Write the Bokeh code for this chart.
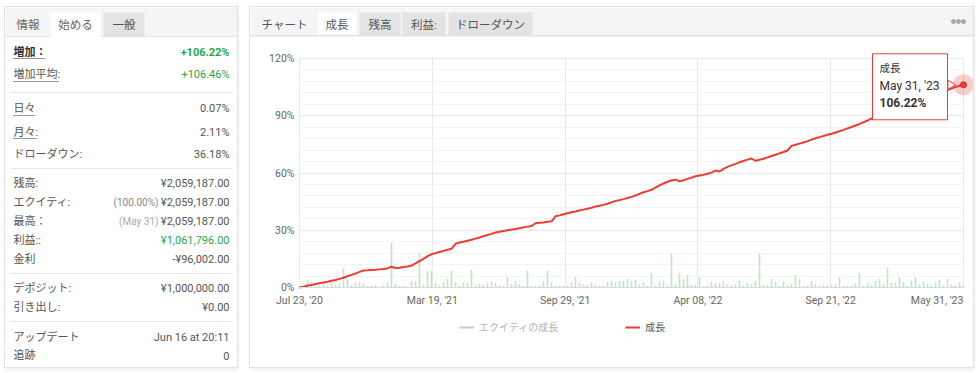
import math
from bokeh.plotting import figure
from bokeh.models import (Range1d, FixedTicker, PrintfTickFormatter, Legend, LegendItem,
                          Label, ColumnDataSource, Grid)
from bokeh.layouts import row, column
from bokeh.core.properties import value
from bokeh.embed import file_html
from bokeh.resources import INLINE

FONT = "Roboto, 'Noto Sans CJK JP', sans-serif"
RED = "#ee3b33"
GREEN = "#1fa84a"
TXT = "#555555"

# ---------------- data ----------------
left_tabs = ["情報", "始める", "一般"]
right_tabs = ["チャート", "成長", "残高", "利益:", "ドローダウン"]

stat_labels = ["増加：", "増加平均:", "日々", "月々:", "ドローダウン:", "残高:", "エクイティ:",
               "最高：", "利益::", "金利", "デポジット:", "引き出し:", "アップデート", "追跡"]
stat_values = ["+106.22%", "+106.46%", "0.07%", "2.11%", "36.18%", "¥2,059,187.00",
               "¥2,059,187.00", "¥2,059,187.00", "¥1,061,796.00", "-¥96,002.00",
               "¥1,000,000.00", "¥0.00", "Jun 16 at 20:11", "0"]
equity_note = "(100.00%)"
high_note = "(May 31)"

x_labels = ["Jul 23, '20", "Mar 19, '21", "Sep 29, '21", "Apr 08, '22", "Sep 21, '22", "May 31, '23"]
y_ticks = [0, 30, 60, 90, 120]
tooltip_series = "成長"
tooltip_date = "May 31, '23"

growth = [
    0.0, 0.4, 0.9, 1.3, 1.8, 2.2, 2.6, 3.0, 3.5, 3.9,
    4.5, 5.1, 5.9, 6.6, 7.3, 8.2, 8.9, 9.0, 9.2, 9.3,
    9.5, 9.7, 10.0, 10.9, 10.2, 10.4, 10.7, 11.0, 11.5, 12.6,
    13.8, 15.0, 16.4, 17.4, 18.0, 18.6, 19.2, 19.8, 20.3, 22.9,
    23.6, 24.0, 24.5, 25.0, 25.6, 26.2, 26.9, 27.5, 28.1, 28.8,
    29.2, 29.6, 30.0, 30.4, 30.7, 31.1, 31.5, 31.9, 32.2, 33.7,
    33.9, 34.1, 34.4, 34.7, 37.3, 37.8, 38.4, 38.9, 39.4, 39.8,
    40.3, 40.8, 41.3, 41.8, 42.4, 42.8, 43.3, 43.9, 44.6, 45.3,
    45.8, 46.3, 46.9, 47.5, 48.2, 49.1, 49.9, 50.5, 51.2, 52.3,
    53.5, 54.5, 55.4, 56.1, 56.5, 55.7, 56.2, 56.9, 57.6, 58.3,
    58.7, 59.0, 59.6, 60.2, 61.3, 60.8, 62.2, 63.2, 64.0, 64.8,
    65.6, 66.3, 67.0, 67.6, 66.4, 66.9, 67.5, 68.2, 68.9, 69.6,
    70.3, 71.0, 71.8, 74.2, 74.8, 75.4, 76.0, 76.7, 77.5, 78.2,
    78.8, 79.4, 80.0, 80.6, 81.2, 81.9, 82.6, 83.4, 84.1, 84.9,
    85.7, 86.6, 87.5, 88.6, 89.3, 90.0, 90.9, 91.6, 92.6, 93.3,
    94.0, 95.0, 95.7, 96.4, 97.4, 98.1, 98.8, 99.8, 100.5, 101.2,
    102.2, 102.8, 103.5, 104.2, 105.1, 105.7, 106.22,
]

activity = [
    0.5, 1.0, 4.0, 3.0, 1.2, 0.8, 1.5, 1.0, 3.0, 1.2,
    2.0, 10.0, 4.5, 1.0, 2.6, 2.8, 2.2, 0.8, 1.0, 1.6,
    0.6, 1.2, 2.6, 23.5, 1.8, 0.8, 1.0, 0.6, 3.5, 3.2,
    18.0, 1.5, 8.7, 8.7, 2.6, 1.2, 3.0, 4.5, 8.7, 2.6,
    1.0, 2.6, 2.6, 9.3, 1.2, 1.7, 1.4, 2.3, 3.0, 2.3,
    1.2, 0.9, 5.2, 1.7, 3.5, 1.7, 0.9, 8.7, 0.9, 0.9,
    1.2, 3.5, 8.7, 2.6, 0.9, 1.2, 0.9, 1.2, 3.0, 5.6,
    2.6, 1.7, 1.2, 2.6, 1.2, 0.9, 1.2, 3.0, 3.5, 2.6,
    3.5, 3.5, 4.4, 3.5, 4.0, 1.7, 3.0, 1.2, 7.3, 1.2,
    3.0, 3.5, 1.2, 17.5, 1.7, 7.3, 4.4, 6.5, 1.4, 1.2,
    5.2, 0.9, 0.9, 3.0, 2.1, 2.3, 3.5, 1.7, 1.2, 1.7,
    3.5, 1.2, 2.6, 1.7, 3.5, 17.5, 1.2, 1.4, 4.4, 3.0,
    1.2, 3.0, 1.2, 1.7, 6.6, 4.4, 0.9, 1.2, 3.5, 1.7,
    0.9, 1.2, 0.9, 1.4, 1.7, 5.2, 1.2, 0.9, 0.9, 2.1,
    7.3, 0.9, 2.1, 1.2, 3.5, 4.4, 1.7, 10.5, 2.3, 2.6,
    5.2, 3.0, 0.9, 3.5, 5.2, 1.7, 3.0, 1.7, 1.2, 2.6,
    4.0, 1.2, 4.4, 1.7, 1.2, 2.6, 1.2,
]

# ---------------- helpers ----------------
SHADOW = {"box-shadow": "0 0 0 1px #e2e2e2, 1px 2px 4px rgba(0,0,0,0.10)"}


def panel_fig(w, h):
    f = figure(width=w, height=h, x_range=Range1d(0, w), y_range=Range1d(h, 0),
               x_axis_type=None, y_axis_type=None, toolbar_location=None,
               output_backend="svg", min_border=0, outline_line_color=None,
               background_fill_color="white", border_fill_color="white")
    f.grid.visible = False
    f.styles = SHADOW
    return f


def txt(f, x, y, t, color=TXT, size="11px", align="left", style="normal"):
    f.text(x=[x], y=[y], text=[t], text_color=color, text_font=value(FONT),
           text_font_size=size, text_align=align, text_baseline="middle",
           text_font_style=style)


# ---------------- left panel ----------------
lp = panel_fig(232, 360)
lp.quad(left=[0], right=[232], top=[0], bottom=[29], fill_color="#f5f5f5", line_color=None)
lp.segment(x0=[0], x1=[232], y0=[29], y1=[29], line_color="#e2e2e2")
lp.quad(left=[45, 98], right=[95, 139], top=[5, 5], bottom=[29.6, 29],
        fill_color=["white", "#e3e3e3"], line_color=None)
txt(lp, 11, 17, left_tabs[0], color="#666", size="11.5px")
txt(lp, 70, 17, left_tabs[1], color="#666", size="11.5px", align="center")
txt(lp, 118.5, 17, left_tabs[2], color="#555", size="11.5px", align="center")

row_y = [45, 67, 101, 125, 147, 176, 195, 214, 233, 252, 281, 300, 330, 348]
for i, (lab, val, yy) in enumerate(zip(stat_labels, stat_values, row_y)):
    lcol = "#333" if i == 0 else TXT
    lsty = "bold" if i == 0 else "normal"
    txt(lp, 8, yy, lab, color=lcol, style=lsty)
    vcol = GREEN if i in (0, 1, 8) else TXT
    vsty = "bold" if i == 0 else "normal"
    txt(lp, 224, yy, val, color=vcol, style=vsty, align="right")

txt(lp, 153, row_y[6], equity_note, color="#888", size="10px", align="right")
txt(lp, 153, row_y[7], high_note, color="#aaa", size="10px", align="right")

lp.segment(x0=[5] * 4, x1=[227] * 4, y0=[85, 161, 266, 314], y1=[85, 161, 266, 314],
           line_color="#e6e6e6")
lp.segment(x0=[8, 8, 8, 8], x1=[40, 53, 29, 32], y0=[51, 74, 108, 131], y1=[51, 74, 108, 131],
           line_color="#333", line_dash="1 1", line_width=1)

# ---------------- right header ----------------
W_R = 723
hp = panel_fig(W_R, 29)
hp.quad(left=[0], right=[W_R], top=[0], bottom=[29], fill_color="#f5f5f5", line_color=None)
hp.quad(left=[67, 109, 152, 198], right=[106, 150, 195, 282], top=[5] * 4,
        bottom=[29.6, 29, 29, 29], fill_color=["white", "#e3e3e3", "#e3e3e3", "#e3e3e3"],
        line_color=None)
txt(hp, 11, 17, right_tabs[0], color="#555", size="11.5px")
for t, cx in zip(right_tabs[1:], [86.5, 129.5, 173.5, 240]):
    txt(hp, cx, 17, t, color="#555", size="11.5px", align="center")
hp.scatter(x=[703, 708, 713], y=[14, 14, 14], size=4, color="#a8a8a8")

# ---------------- chart ----------------
N = len(growth) - 1
Y_MAX = y_ticks[-1]
idx = list(range(len(growth)))
src = ColumnDataSource(dict(x=idx, g=growth, a=activity))

H_C = 331
PL, PR, PT, PB = 49, 713, 22, 251        # plot area inside the chart canvas (px)
xpx = (PR - PL) / N
ypx = (PB - PT) / Y_MAX
cp = figure(width=W_R, height=H_C,
            x_range=Range1d(-PL / xpx, (W_R - PL) / xpx),
            y_range=Range1d(-(H_C - PB) / ypx, Y_MAX + PT / ypx),
            toolbar_location=None, output_backend="svg", min_border=0,
            outline_line_color=None, background_fill_color="white", border_fill_color="white")
cp.styles = SHADOW

cp.vbar(x="x", top="a", width=0.4, source=src, fill_color="#c2e5bb", line_color=None)
eq_r = cp.line("x", "g", source=src, line_color="#888888", line_width=2, visible=False)
gr_r = cp.line("x", "g", source=src, line_color=RED, line_width=2)
cp.scatter(x=[idx[-1]], y=[growth[-1]], size=21, fill_color=RED, fill_alpha=0.25, line_color=None)
cp.scatter(x=[idx[-1]], y=[growth[-1]], size=6, fill_color=RED, line_color="#d02820")
# tooltip pointer notch, just left of the hovered point
cp.scatter(x=[idx[-1] - 13 / xpx], y=[growth[-1]], marker="triangle", angle=-math.pi / 2,
           size=9, fill_color="white", line_color=RED, line_width=1)

LAST_SHIFT = 6.6   # keep last date label inside the panel (right aligned on its tick)
x_tick_pos = [N * k / 5 for k in range(6)]
x_label_pos = x_tick_pos[:-1] + [N - LAST_SHIFT]
cp.xaxis.fixed_location = 0
cp.xaxis.bounds = (0, N)
cp.xaxis.ticker = FixedTicker(ticks=x_label_pos)
cp.xaxis.major_label_overrides = {p: l for p, l in zip(x_label_pos, x_labels)}
cp.xaxis.axis_line_color = "#d5dbe5"
cp.xaxis.major_tick_line_color = None
cp.xaxis.minor_tick_line_color = None
cp.xaxis.major_tick_out = 0
cp.xaxis.major_tick_in = 0
cp.xaxis.major_label_standoff = 6
cp.xaxis.major_label_text_font = FONT
cp.xaxis.major_label_text_font_size = "10.5px"
cp.xaxis.major_label_text_color = "#666"

cp.yaxis.fixed_location = 0
cp.yaxis.bounds = (0, Y_MAX)
cp.yaxis.ticker = FixedTicker(ticks=y_ticks, minor_ticks=[v for v in range(0, Y_MAX + 1, 6) if v % 30])
cp.yaxis.formatter = PrintfTickFormatter(format="%d%%")
cp.yaxis.axis_line_color = None
cp.yaxis.major_tick_line_color = None
cp.yaxis.minor_tick_line_color = None
cp.yaxis.major_tick_out = 0
cp.yaxis.major_tick_in = 0
cp.yaxis.major_label_standoff = 1
cp.yaxis.major_label_text_font = FONT
cp.yaxis.major_label_text_font_size = "10.5px"
cp.yaxis.major_label_text_color = "#666"

GRID_C, MINOR_C = "#e8e8e8", "#f4f4f4"
if "cross_bounds" in Grid.properties():
    cp.xgrid.ticker = FixedTicker(ticks=x_tick_pos)
    cp.xgrid.bounds = (0, N)
    cp.xgrid.cross_bounds = (0, Y_MAX)
    cp.ygrid.bounds = (0, Y_MAX)
    cp.ygrid.cross_bounds = (0, N)
    cp.xgrid.grid_line_color = GRID_C
    cp.ygrid.grid_line_color = GRID_C
    cp.ygrid.minor_grid_line_color = MINOR_C
else:
    cp.grid.visible = False
    minor = [v for v in range(0, Y_MAX + 1, 6) if v % 30]
    cp.segment(x0=[0] * len(minor), x1=[N] * len(minor), y0=minor, y1=minor, line_color=MINOR_C)
    cp.segment(x0=[0] * len(y_ticks), x1=[N] * len(y_ticks), y0=y_ticks, y1=y_ticks, line_color=GRID_C)
    cp.segment(x0=x_tick_pos, x1=x_tick_pos, y0=[0] * 6, y1=[Y_MAX] * 6, line_color=GRID_C)
    cp.renderers = cp.renderers[-3:] + cp.renderers[:-3]

# tooltip for the last point
lx, ly = idx[-1], growth[-1]
cp.add_layout(Label(x=lx, y=ly, x_offset=-91, y_offset=-2, text=tooltip_date,
                    text_align="left", text_baseline="middle", text_font=FONT,
                    text_font_size="12px", text_color="#333",
                    background_fill_color="white", border_line_color=RED,
                    border_line_width=1, padding=(7, 8, 25, 27)))
cp.add_layout(Label(x=lx, y=ly, x_offset=-84, y_offset=16, text=tooltip_series,
                    text_align="left", text_baseline="middle", text_font=FONT,
                    text_font_size="10.5px", text_color="#333"))
cp.add_layout(Label(x=lx, y=ly, x_offset=-84, y_offset=-18, text=f"{growth[-1]:.2f}%",
                    text_align="left", text_baseline="middle", text_font=FONT,
                    text_font_size="12px", text_color="#333", text_font_style="bold"))

legend = Legend(items=[LegendItem(label="エクイティの成長", renderers=[eq_r]),
                       LegendItem(label="成長", renderers=[gr_r])],
                location=(209, 33), orientation="horizontal", click_policy="hide",
                inactive_fill_color="white", inactive_fill_alpha=0.55,
                background_fill_alpha=0, border_line_color=None, padding=0, margin=0,
                spacing=67, glyph_width=15, glyph_height=12, label_height=12,
                label_standoff=5, label_text_font=FONT, label_text_font_size="10px",
                label_text_color="#555")
cp.add_layout(legend, "center")

layout = row(lp, column(hp, cp, spacing=0), spacing=13)
layout.margin = (7, 0, 0, 5)

open("out.html", "w").write(file_html(layout, INLINE))
